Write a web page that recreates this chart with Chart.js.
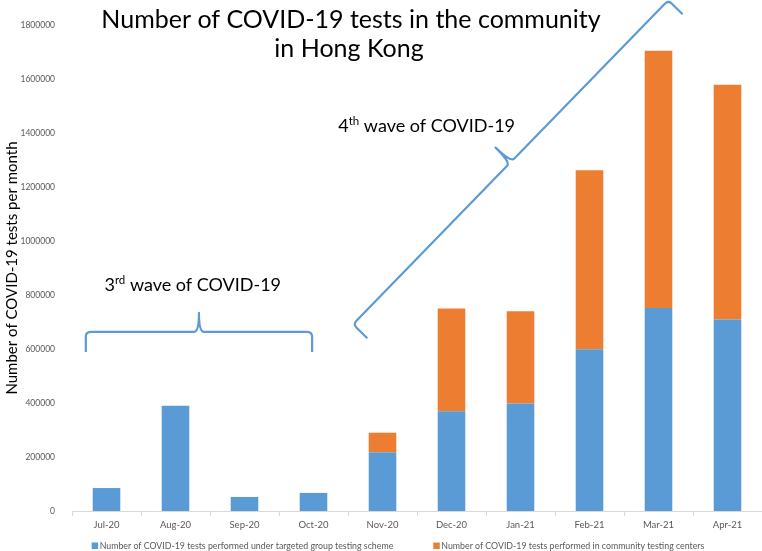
<!DOCTYPE html>
<html>
<head>
<meta charset="utf-8">
<script src="https://cdn.jsdelivr.net/npm/chart.js@4"></script>
<style>
  body { margin: 0; background: #fff; }
  #wrap { width: 762px; height: 551px; position: relative; }
</style>
</head>
<body>
<div id="wrap"><canvas id="testChart"></canvas></div>
<script>
// ---------------- data -----------------
const months = ['Jul-20', 'Aug-20', 'Sep-20', 'Oct-20', 'Nov-20', 'Dec-20', 'Jan-21', 'Feb-21', 'Mar-21', 'Apr-21'];
const targetedGroup = [85000, 390000, 52000, 67000, 218000, 369000, 398000, 599000, 752000, 709000];
const communityCentres = [null, null, null, null, 72000, 381000, 342000, 663000, 953000, 870000];
const seriesNames = [
    'Number of COVID-19 tests performed under targeted group testing scheme',
    'Number of COVID-19 tests performed in community testing centers'
];
const yMax = 1800000;
const yStep = 200000;

const COLORS = ['#5B9BD5', '#ED7D31'];
const FONT = "Lato, 'Open Sans', sans-serif";
const GREY = '#595959';

// wave annotations, in axis units (category index, tests)
const waves = [
    { num: '3', sup: 'rd', label: { x: 1.25, y: 815000 }, from: [-0.30, 589000], to: [2.98, 589000], arm: 20, tip: 19 },
    { num: '4', sup: 'th', label: { x: 4.64, y: 1404000 }, from: [3.78, 640000], to: [8.35, 1840000], arm: 20, tip: 21 }
];

// curly brace between two points, bulging to the left of A->B
function drawBrace(ctx, A, B, arm, tip) {
    const dx = B.x - A.x, dy = B.y - A.y;
    const len = Math.hypot(dx, dy);
    const u = { x: dx / len, y: dy / len };
    const n = { x: u.y, y: -u.x };
    const P = (t, h) => [A.x + u.x * t + n.x * h, A.y + u.y * t + n.y * h];
    const r = 5, m = len / 2;
    ctx.beginPath();
    ctx.moveTo(...P(0, 0));
    ctx.lineTo(...P(0, arm - r));
    ctx.quadraticCurveTo(...P(0, arm), ...P(r, arm));
    ctx.lineTo(...P(m - r, arm));
    ctx.quadraticCurveTo(...P(m, arm), ...P(m, arm + tip));
    ctx.quadraticCurveTo(...P(m, arm), ...P(m + r, arm));
    ctx.lineTo(...P(len - r, arm));
    ctx.quadraticCurveTo(...P(len, arm), ...P(len, arm - r));
    ctx.lineTo(...P(len, 0));
    ctx.stroke();
}

const annotations = {
    id: 'annotations',
    afterDraw(chart) {
        const ctx = chart.ctx;
        const { x, y } = chart.scales;
        ctx.save();

        // title
        ctx.fillStyle = '#000';
        ctx.textAlign = 'center';
        ctx.textBaseline = 'alphabetic';
        ctx.font = `25px ${FONT}`;
        ctx.fillText('Number of COVID-19 tests in the community', 351, 28);
        ctx.fillText('in Hong Kong', 349, 57);

        // braces + wave labels
        ctx.strokeStyle = COLORS[0];
        ctx.lineWidth = 2.2;
        ctx.lineJoin = 'round';
        waves.forEach(w => {
            const A = { x: x.getPixelForValue(w.from[0]), y: y.getPixelForValue(w.from[1]) };
            const B = { x: x.getPixelForValue(w.to[0]), y: y.getPixelForValue(w.to[1]) };
            drawBrace(ctx, A, B, w.arm, w.tip);

            const rest = ' wave of COVID-19';
            ctx.font = `18px ${FONT}`;
            const w1 = ctx.measureText(w.num).width;
            const w3 = ctx.measureText(rest).width;
            ctx.font = `11.5px ${FONT}`;
            const w2 = ctx.measureText(w.sup).width;
            let px = x.getPixelForValue(w.label.x) - (w1 + w2 + w3) / 2;
            const py = y.getPixelForValue(w.label.y);
            ctx.textAlign = 'left';
            ctx.font = `18px ${FONT}`;
            ctx.fillText(w.num, px, py);
            ctx.font = `11.5px ${FONT}`;
            ctx.fillText(w.sup, px + w1, py - 7);
            ctx.font = `18px ${FONT}`;
            ctx.fillText(rest, px + w1 + w2, py);
        });

        // legend
        ctx.font = `8.8px ${FONT}`;
        ctx.textBaseline = 'middle';
        const items = chart.data.datasets.map(ds => ({
            text: ds.label, color: ds.backgroundColor, w: 8 + ctx.measureText(ds.label).width
        }));
        const gap = 40;
        const total = items.reduce((s, it) => s + it.w, 0) + gap * (items.length - 1);
        let lx = 398 - total / 2;
        const ly = 546;
        items.forEach(it => {
            ctx.fillStyle = it.color;
            ctx.fillRect(lx, ly - 3.5, 6.5, 6.5);
            ctx.fillStyle = GREY;
            ctx.fillText(it.text, lx + 8, ly);
            lx += it.w + gap;
        });
        ctx.restore();
    }
};

new Chart(document.getElementById('testChart'), {
    type: 'bar',
    data: {
        labels: months,
        datasets: [
            { label: seriesNames[0], data: targetedGroup, backgroundColor: COLORS[0] },
            { label: seriesNames[1], data: communityCentres, backgroundColor: COLORS[1] }
        ]
    },
    options: {
        responsive: true,
        maintainAspectRatio: false,
        animation: false,
        categoryPercentage: 1,
        barPercentage: 0.4,
        layout: { padding: { top: 25, right: 0, bottom: 20, left: 0 } },
        plugins: {
            legend: { display: false },
            title: { display: false },
            tooltip: { enabled: false }
        },
        scales: {
            x: {
                stacked: true,
                grid: { display: true, drawOnChartArea: false, drawTicks: true, tickLength: 5, offset: true, color: '#d9d9d9' },
                border: { color: '#d9d9d9' },
                ticks: { color: GREY, font: { family: FONT, size: 9.5 }, padding: 3, maxRotation: 0 },
                afterFit: s => { s.height = 20; }
            },
            y: {
                stacked: true,
                min: 0,
                max: yMax,
                grid: { display: false },
                border: { display: false },
                ticks: { stepSize: yStep, color: GREY, font: { family: FONT, size: 8.5 }, padding: 9, callback: v => String(v) },
                title: {
                    display: true,
                    text: 'Number of COVID-19 tests per month',
                    color: '#000',
                    font: { family: FONT, size: 15 },
                    padding: 3
                },
                afterFit: s => { s.width = 72; }
            }
        }
    },
    plugins: [annotations]
});
</script>
</body>
</html>
